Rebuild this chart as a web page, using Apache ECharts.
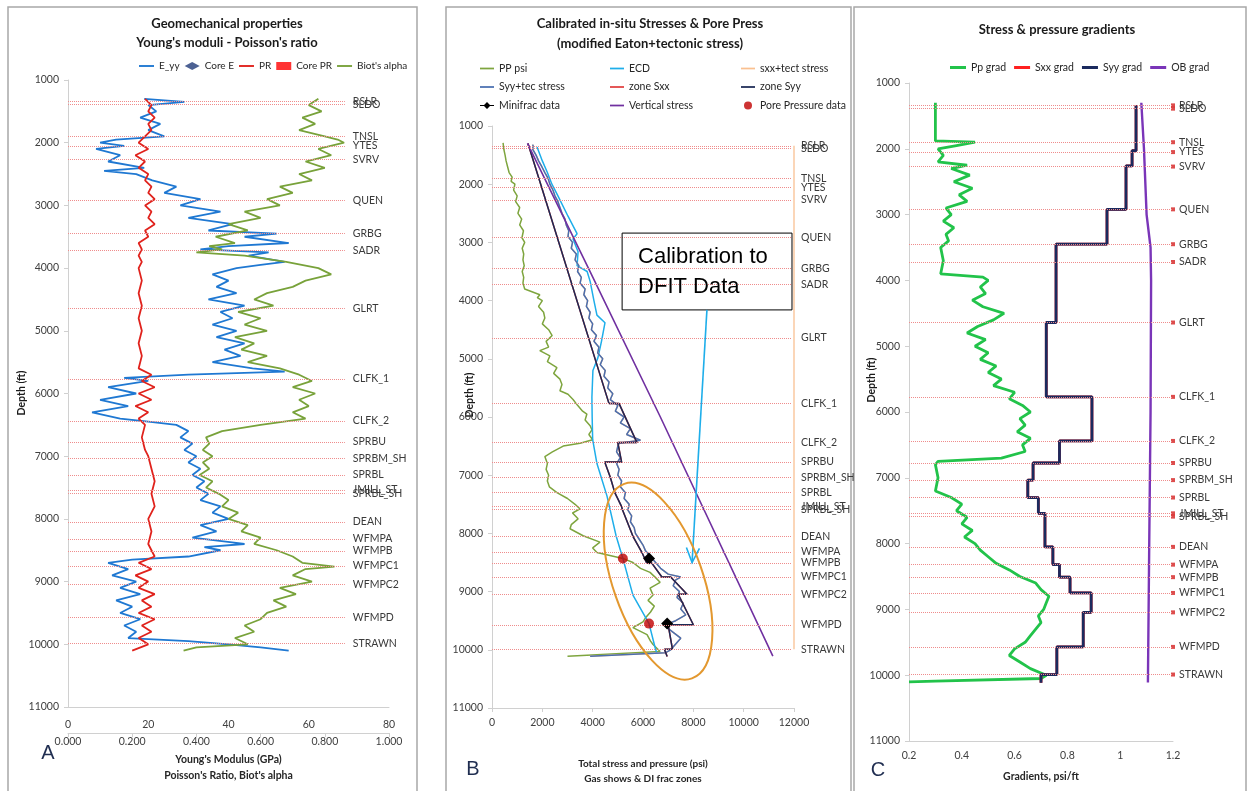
<!DOCTYPE html>
<html>
<head>
<meta charset="utf-8">
<script src="https://cdn.jsdelivr.net/npm/echarts/dist/echarts.min.js"></script>
<style>
  html, body { margin: 0; padding: 0; background: #fff; }
  #chart { width: 1249px; height: 791px; }
</style>
</head>
<body>
<div id="chart"></div>
<script>
const FONT = "Lato, 'Open Sans', sans-serif";
const depthMin = 1000, depthMax = 11000, depthStep = 1000;

// Formation tops (ft)
const formationNames = ['RSLR','SLDO','TNSL','YTES','SVRV','QUEN','GRBG','SADR','GLRT','CLFK_1','CLFK_2','SPRBU','SPRBM_SH','SPRBL','JMILL_ST','SPRBL_SH','DEAN','WFMPA','WFMPB','WFMPC1','WFMPC2','WFMPD','STRAWN'];
const formationDepths = [1340,1390,1900,2050,2270,2920,3450,3720,4640,5770,6440,6775,7035,7300,7540,7590,8050,8320,8510,8750,9045,9570,9990];

// ---- Panel A: Young's modulus (GPa), Poisson's ratio, Biot's alpha ----
const eyyDepth = [1300,1350,1400,1500,1600,1700,1800,1900,1950,2000,2050,2100,2200,2300,2400,2450,2500,2600,2700,2800,2900,3000,3100,3200,3300,3400,3450,3500,3600,3650,3700,3750,3800,3900,3950,4000,4100,4200,4300,4400,4500,4600,4700,4800,4900,5000,5100,5200,5300,5400,5500,5600,5650,5700,5750,5800,5900,6000,6100,6200,6300,6400,6450,6500,6600,6700,6800,6900,7000,7100,7200,7300,7400,7500,7600,7700,7800,7900,8000,8100,8200,8300,8400,8450,8500,8600,8650,8700,8800,8900,9000,9100,9200,9300,9400,9500,9600,9700,9800,9900,9950,10000,10050,10100];
const eyyGpa = [19,29,20,22,18,23,20,24,12,8,14,7,13,10,19,9,17,21,27,24,33,28,38,30,41,35,52,44,55,40,33,50,45,54,48,42,36,40,37,42,35,44,38,41,36,42,37,44,39,43,36,46,54,30,14,20,10,17,8,15,6,13,20,27,30,28,31,29,32,30,33,31,34,32,35,33,38,36,40,33,37,31,44,34,38,30,16,10,15,11,17,13,18,12,16,13,18,14,17,15,30,40,48,55];

const prDepth = [1300,1400,1500,1600,1700,1800,1900,2000,2100,2200,2300,2400,2500,2600,2700,2800,2900,3000,3100,3200,3300,3400,3500,3600,3700,3800,3900,4000,4200,4400,4600,4800,5000,5200,5400,5600,5700,5800,5900,6000,6100,6200,6300,6400,6500,6700,6900,7000,7200,7400,7600,7800,8000,8200,8400,8600,8700,8800,8900,9000,9100,9200,9300,9400,9500,9600,9700,9800,9900,10000,10100];
const prValue = [0.24,0.26,0.25,0.27,0.25,0.26,0.24,0.22,0.25,0.21,0.24,0.22,0.25,0.24,0.26,0.25,0.27,0.24,0.26,0.25,0.27,0.24,0.25,0.22,0.23,0.22,0.23,0.22,0.23,0.22,0.23,0.22,0.23,0.22,0.23,0.22,0.26,0.23,0.27,0.22,0.26,0.21,0.25,0.22,0.24,0.23,0.24,0.25,0.26,0.27,0.26,0.27,0.25,0.26,0.25,0.27,0.22,0.26,0.21,0.25,0.22,0.27,0.23,0.26,0.22,0.27,0.23,0.26,0.22,0.25,0.20];

const biotDepth = [1300,1400,1500,1600,1700,1800,1900,1950,2000,2100,2200,2300,2400,2500,2600,2700,2800,2900,3000,3100,3200,3300,3400,3500,3600,3650,3700,3750,3800,3900,4000,4100,4200,4300,4400,4500,4600,4700,4800,4900,5000,5100,5200,5300,5400,5500,5600,5700,5800,5900,6000,6100,6200,6300,6400,6500,6600,6700,6800,6900,7000,7100,7200,7300,7400,7500,7600,7700,7800,7900,8000,8100,8200,8300,8400,8500,8600,8700,8760,8800,8900,9000,9100,9200,9300,9400,9500,9600,9700,9800,9900,10000,10050,10100];
const biotValue = [0.78,0.75,0.79,0.73,0.77,0.72,0.80,0.84,0.86,0.78,0.82,0.74,0.80,0.72,0.76,0.66,0.70,0.62,0.66,0.55,0.60,0.50,0.56,0.46,0.52,0.44,0.48,0.40,0.55,0.68,0.78,0.82,0.74,0.70,0.62,0.58,0.64,0.53,0.60,0.55,0.62,0.52,0.58,0.54,0.62,0.56,0.66,0.72,0.76,0.70,0.77,0.72,0.75,0.70,0.74,0.60,0.48,0.43,0.44,0.42,0.45,0.42,0.44,0.41,0.45,0.43,0.47,0.50,0.48,0.53,0.50,0.56,0.54,0.60,0.58,0.65,0.70,0.73,0.83,0.74,0.70,0.76,0.66,0.71,0.64,0.68,0.62,0.60,0.55,0.58,0.52,0.56,0.40,0.36];

// ---- Panel B: stresses and pore pressure (psi) ----
const ppDepth = [1290,1400,1500,1600,1700,1800,1880,1950,2000,2100,2200,2300,2400,2500,2600,2700,2800,2920,3000,3100,3200,3300,3400,3500,3600,3700,3800,3900,3950,4000,4100,4200,4300,4400,4500,4600,4700,4800,4860,4950,5050,5150,5250,5350,5440,5550,5610,5700,5800,5900,5950,6050,6150,6220,6300,6390,6450,6500,6600,6680,6800,6900,7000,7100,7200,7300,7400,7500,7580,7650,7750,7850,7920,8040,8150,8250,8330,8430,8500,8600,8670,8760,8840,8940,9060,9150,9250,9350,9450,9520,9620,9740,9850,9910,10030,10110];
const ppPsi = [440,470,520,560,620,680,800,760,910,860,1000,940,1100,1030,1180,1100,1250,1190,1300,1200,1260,1230,1280,1200,1260,1230,1300,1900,1800,2000,1850,2050,2100,2000,2250,2390,2150,2250,1900,2300,2200,2580,2450,2700,2780,2700,3020,3220,3400,3600,3770,3700,3900,3970,3850,4000,3500,2830,2400,2100,2200,2150,2250,2200,2280,2580,3000,3300,3500,3200,3420,3150,3100,3620,4290,4000,4170,5200,5600,5900,6280,6500,6680,6280,6400,6200,6450,6300,6100,6000,5600,6160,6300,6400,6680,3000];

const ecdDepth = [1360,1600,1800,2000,2200,2550,2850,2940,3160,3400,3500,3670,4000,4250,4380,4700,4980,5200,5660,6000,6390,6800,7360,8040,8430,9060,9550,9960,10060];
const ecdPsi = [1790,2000,2200,2380,2620,3020,3380,3220,3420,3380,3780,3900,4050,4170,4490,4350,4210,4010,3970,3980,4000,4170,4570,4930,5200,5600,6240,6480,6550];

const syyTecDepth = [1320,1400,1500,1600,1700,1800,1900,2000,2100,2200,2300,2400,2500,2600,2700,2800,2900,3000,3100,3200,3300,3400,3500,3600,3700,3800,3900,4000,4100,4200,4300,4400,4500,4600,4700,4800,4900,5000,5100,5200,5300,5400,5500,5600,5700,5800,5900,6000,6100,6200,6300,6400,6450,6500,6600,6700,6800,6900,7000,7100,7200,7300,7400,7500,7600,7700,7800,7900,8000,8100,8200,8300,8400,8500,8600,8700,8750,8800,8900,9000,9100,9200,9300,9400,9500,9550,9600,9700,9800,9900,10000,10050,10110];
const syyTecPsi = [1630,1620,1750,1850,1980,2100,2230,2300,2420,2500,2620,2700,2780,2900,2950,3050,3020,3200,3150,3350,3300,3450,3400,3550,3500,3700,3650,3800,3750,3900,3850,4000,3950,4150,4050,4250,4200,4400,4300,4500,4450,4650,4600,4800,4700,5000,4900,5250,5100,5500,5350,5900,5050,5000,4950,5100,4950,5050,5000,5150,5100,5300,5250,5450,5400,5550,5500,5650,5700,5850,6000,6100,6300,6500,6700,7000,7500,7300,7200,7450,7350,7600,7500,7700,7300,7000,6900,7200,7500,7300,7100,6900,3900];

const zoneSyyDepth = [1300,5770,5770,6440,6440,6775,6775,7035,7300,7540,7590,8050,8320,8510,8510,8750,8750,9045,9045,9570,9570,9990,9990,10115];
const zoneSyyPsi = [1430,4650,5050,5760,5000,5150,4480,4700,4880,5150,5180,5600,5950,6150,6350,6750,7100,7750,7400,8000,7000,7170,6850,6960];

const vertDepth = [1300,3450,6000,10110];
const vertPsi = [1410,3840,6690,11160];

const minifracDepth = [8430,9550];
const minifracPsi = [6240,6960];
const poreDataDepth = [8430,9550];
const poreDataPsi = [5200,6240];

// ---- Panel C: gradients (psi/ft) ----
const ppGradDepth = [1300,1800,1880,1900,1950,2000,2100,2200,2250,2300,2400,2500,2600,2700,2800,2900,3000,3100,3200,3300,3400,3500,3700,3900,3950,4000,4100,4200,4300,4400,4500,4600,4700,4800,4900,5000,5100,5200,5300,5400,5500,5600,5700,5800,5900,6000,6100,6200,6300,6400,6500,6600,6700,6750,6800,7000,7200,7300,7400,7500,7600,7700,7800,7900,8000,8100,8200,8300,8400,8500,8600,8700,8800,8900,9000,9100,9200,9300,9400,9500,9600,9700,9800,9900,10000,10050,10090,10100];
const ppGradValue = [0.30,0.30,0.30,0.45,0.38,0.31,0.33,0.31,0.42,0.36,0.43,0.37,0.44,0.39,0.42,0.34,0.36,0.33,0.37,0.34,0.35,0.32,0.33,0.32,0.48,0.50,0.47,0.49,0.44,0.48,0.56,0.52,0.46,0.42,0.49,0.45,0.50,0.47,0.53,0.50,0.55,0.52,0.60,0.58,0.63,0.66,0.62,0.64,0.61,0.66,0.63,0.64,0.55,0.31,0.30,0.31,0.30,0.36,0.40,0.38,0.42,0.40,0.44,0.41,0.45,0.47,0.50,0.53,0.58,0.62,0.68,0.70,0.73,0.72,0.71,0.69,0.70,0.68,0.66,0.64,0.60,0.58,0.62,0.66,0.72,0.70,0.30,0.20];

const syyGradTop = [1340,2030,2260,2920,3450,4640,5770,6440,6775,7035,7300,7540,8050,8320,8510,8750,9045,9570,9990];
const syyGradValue = [1.06,1.045,1.022,0.95,0.757,0.72,0.893,0.77,0.67,0.65,0.69,0.715,0.745,0.77,0.81,0.89,0.86,0.76,0.70];
const syyGradBottom = 10115;

const obGradDepth = [1300,2000,3000,3500,4000,6000,8000,10110];
const obGradValue = [1.08,1.09,1.10,1.115,1.117,1.115,1.11,1.105];

// Annotation anchors in data units of the stress panel
const calloutBox = { psi: [5170, 11920], depth: [2840, 4160] };
const calloutArrow = { from: [8540, 4160], to: [7950, 8500] };
const calibrationZone = { psi: 6600, depth: 8820 };

// ---------- helpers ----------
const pairs = (vals, depths) => vals.map((v, i) => [v, depths[i]]);
function stepPath(tops, vals, bottom) {
  const out = [];
  tops.forEach((t, i) => {
    const next = i + 1 < tops.length ? tops[i + 1] : bottom;
    out.push([vals[i], t], [vals[i], next]);
  });
  return out;
}
function lineSeries(name, xi, yi, data, color, width, extra) {
  return Object.assign({
    name, type: 'line', xAxisIndex: xi, yAxisIndex: yi, data,
    symbol: 'none', showSymbol: false, animation: false, clip: true,
    lineStyle: { color, width }, itemStyle: { color },
    emphasis: { disabled: true }
  }, extra || {});
}
function formationLines(x0, x1, distance) {
  return {
    silent: true, animation: false,
    symbol: ['none', 'none'],
    lineStyle: { color: '#ef8c8c', width: 1, type: 'dotted' },
    label: { show: true, position: 'end', distance, formatter: '{b}', color: '#3a3a3a', fontSize: 10.5, fontFamily: FONT },
    emphasis: { disabled: true },
    data: formationNames.map((n, i) => [{ name: n, coord: [x0, formationDepths[i]] }, { coord: [x1, formationDepths[i]] }])
  };
}
const plain = v => String(v);
const axisGrey = { lineStyle: { color: '#d0d0d0', width: 1 } };
const tickText = { fontSize: 10.5, color: '#404040', fontFamily: FONT, formatter: plain };
function depthAxis(grid) {
  return {
    type: 'value', gridIndex: grid, inverse: true, min: depthMin, max: depthMax, interval: depthStep,
    axisLine: { show: true, ...axisGrey }, axisTick: { show: true, length: 4, ...axisGrey },
    axisLabel: { margin: 9, ...tickText },
    splitLine: { show: false }
  };
}
function valueAxis(grid, min, max, interval, extra) {
  return Object.assign({
    type: 'value', gridIndex: grid, position: 'bottom', min, max, interval,
    axisLine: { show: true, onZero: false, ...axisGrey }, axisTick: { show: true, length: 4, ...axisGrey },
    axisLabel: { margin: 9, ...tickText },
    splitLine: { show: false },
    nameTextStyle: { fontWeight: 'bold', fontSize: 10.5, color: '#262626', fontFamily: FONT, lineHeight: 16 }
  }, extra || {});
}

// Legend glyphs: a plain stroke for line series, stroke + diamond for the minifrac points
const LINE_ICON = 'path://M0,0H32V4H0Z';
const THICK_ICON = 'path://M0,0H32V6H0Z';
const DIAMOND_LINE_ICON = 'path://M0,3.4H4L7,0.5L10,3.4H14V4.6H10L7,7.5L4,4.6H0Z';
const lineItem = (name, icon) => ({ name, icon: icon || LINE_ICON });

const legendText = { fontSize: 10.5, color: '#262626', fontFamily: FONT };
const legendBase = { itemHeight: 8, selectedMode: false, textStyle: legendText, itemStyle: { borderWidth: 0 } };

const chart = echarts.init(document.getElementById('chart'), null, { renderer: 'canvas' });

const option = {
  backgroundColor: '#ffffff',
  animation: false,
  grid: [
    { left: 68, top: 80, width: 321, height: 627 },
    { left: 492, top: 126, width: 302, height: 588 },
    { left: 909, top: 83, width: 264, height: 658 }
  ],
  xAxis: [
    valueAxis(0, 0, 80, 20, { axisTick: { show: false }, axisLabel: { margin: 12, ...tickText } }),
    valueAxis(0, 0, 1, 0.2, {
      offset: 26,
      axisLabel: { margin: 3, ...tickText, formatter: v => v.toFixed(3) },
      name: "Young's Modulus (GPa)\nPoisson's Ratio, Biot's alpha", nameLocation: 'middle', nameGap: 14
    }),
    valueAxis(1, 0, 12000, 2000, {
      name: 'Total stress and pressure (psi)\nGas shows & DI frac zones', nameLocation: 'middle', nameGap: 48,
      nameTextStyle: { fontWeight: 'bold', fontSize: 10, color: '#262626', fontFamily: FONT, lineHeight: 15 }
    }),
    valueAxis(2, 0.2, 1.2, 0.2, { axisTick: { show: false }, name: 'Gradients, psi/ft', nameLocation: 'middle', nameGap: 28 })
  ],
  yAxis: [depthAxis(0), depthAxis(1), depthAxis(2)],
  legend: [
    { ...legendBase, textStyle: { ...legendText, fontSize: 10 }, data: [lineItem('E_yy'), 'Core E', lineItem('PR'), 'Core PR', lineItem("Biot's alpha")], left: 134, top: 56, itemWidth: 15, itemGap: 5 },
    { ...legendBase, data: [lineItem('PP psi'), lineItem('Syy+tec stress'), { name: 'Minifrac data', icon: DIAMOND_LINE_ICON }], orient: 'vertical', left: 475, top: 58, itemWidth: 14, itemGap: 7.5 },
    { ...legendBase, data: [lineItem('ECD'), lineItem('zone Sxx'), lineItem('Vertical stress')], orient: 'vertical', left: 605, top: 58, itemWidth: 14, itemGap: 7.5 },
    { ...legendBase, data: [lineItem('sxx+tect stress'), lineItem('zone Syy'), 'Pore Pressure data'], orient: 'vertical', left: 736, top: 58, itemWidth: 14, itemGap: 7.5 },
    { ...legendBase, data: [lineItem('Pp grad', THICK_ICON), lineItem('Sxx grad', THICK_ICON), lineItem('Syy grad', THICK_ICON), lineItem('OB grad', THICK_ICON)], left: 945, top: 57, itemWidth: 16, itemGap: 8 }
  ],
  series: [
    // Panel A
    lineSeries('E_yy', 0, 0, pairs(eyyGpa, eyyDepth), '#1f78d2', 1.8),
    { name: 'Core E', type: 'scatter', xAxisIndex: 0, yAxisIndex: 0, data: [], symbol: 'diamond', symbolSize: 9, itemStyle: { color: '#1f3a78' } },
    lineSeries('PR', 1, 0, pairs(prValue, prDepth), '#e0221c', 1.8),
    { name: 'Core PR', type: 'scatter', xAxisIndex: 1, yAxisIndex: 0, data: [], symbol: 'rect', symbolSize: 8, itemStyle: { color: '#ff0000' } },
    lineSeries("Biot's alpha", 1, 0, pairs(biotValue, biotDepth), '#78a23a', 1.8),
    { type: 'line', xAxisIndex: 0, yAxisIndex: 0, data: [], markLine: formationLines(0, 69, 8) },

    // Panel B
    lineSeries('PP psi', 2, 1, pairs(ppPsi, ppDepth), '#7ea53e', 1.5),
    lineSeries('ECD', 2, 1, pairs(ecdPsi, ecdDepth), '#1eaeea', 1.5),
    lineSeries('sxx+tect stress', 2, 1, pairs(syyTecPsi, syyTecDepth), '#fac090', 1.5),
    lineSeries('Syy+tec stress', 2, 1, pairs(syyTecPsi, syyTecDepth), '#4a6fb0', 1.5),
    lineSeries('zone Sxx', 2, 1, pairs(zoneSyyPsi, zoneSyyDepth), '#e04040', 1.5),
    lineSeries('zone Syy', 2, 1, pairs(zoneSyyPsi, zoneSyyDepth), '#1c2a55', 1.5),
    lineSeries('Minifrac data', 2, 1, pairs(minifracPsi, minifracDepth), '#000000', 1.5, { symbol: 'diamond', showSymbol: true, symbolSize: 12, lineStyle: { opacity: 0, color: '#000' } }),
    lineSeries('Vertical stress', 2, 1, pairs(vertPsi, vertDepth), '#7030a0', 1.6),
    { name: 'Pore Pressure data', type: 'scatter', xAxisIndex: 2, yAxisIndex: 1, data: pairs(poreDataPsi, poreDataDepth), symbol: 'circle', symbolSize: 10, itemStyle: { color: '#c00000' }, z: 5 },
    lineSeries('', 2, 1, [[12000, formationDepths[0]], [12000, formationDepths[formationDepths.length - 1]]], '#fac8a0', 1.5, { markLine: formationLines(0, 11920, 9) }),

    // Panel C
    lineSeries('Pp grad', 3, 2, pairs(ppGradValue, ppGradDepth), '#22c34a', 2.8),
    lineSeries('Sxx grad', 3, 2, stepPath(syyGradTop, syyGradValue, syyGradBottom), '#ff2020', 2.8),
    lineSeries('Syy grad', 3, 2, stepPath(syyGradTop, syyGradValue, syyGradBottom), '#1b2a5e', 2.8),
    lineSeries('OB grad', 3, 2, pairs(obGradValue, obGradDepth), '#7a35b8', 2.4),
    { type: 'scatter', xAxisIndex: 3, yAxisIndex: 2, data: formationDepths.map(d => [1.2, d]), symbol: 'rect', symbolSize: 4, itemStyle: { color: '#d42020' }, silent: true,
      markLine: formationLines(0.2, 1.2, 6) }
  ]
};

chart.setOption(option);

// Frames, panel titles, axis titles and the calibration annotation
const txt = (text, x, y, style, extra) => Object.assign({
  type: 'text', x, y, silent: true,
  style: Object.assign({ text, fontFamily: FONT, fill: '#1a1a1a', textAlign: 'center', textVerticalAlign: 'middle' }, style)
}, extra || {});
const frame = (x, w) => ({ type: 'rect', silent: true, shape: { x, y: 7, width: w, height: 800 }, style: { fill: 'none', stroke: '#a8a8a8', lineWidth: 1.5 } });

const toPx = p => chart.convertToPixel({ xAxisIndex: 2, yAxisIndex: 1 }, p);
const boxA = toPx([calloutBox.psi[0], calloutBox.depth[0]]);
const boxB = toPx([calloutBox.psi[1], calloutBox.depth[1]]);
const arrFrom = toPx(calloutArrow.from);
const arrTo = toPx(calloutArrow.to);
const zoneC = toPx([calibrationZone.psi, calibrationZone.depth]);
const ang = Math.atan2(arrTo[1] - arrFrom[1], arrTo[0] - arrFrom[0]);
const head = 16, spread = 0.42;

chart.setOption({
  graphic: [
    frame(8, 409), frame(446, 405), frame(854, 392),
    txt('Geomechanical properties', 227, 24, { fontSize: 13, fontWeight: 'bold' }),
    txt("Young's moduli - Poisson's ratio", 227, 43, { fontSize: 13, fontWeight: 'bold' }),
    txt('Calibrated in-situ Stresses & Pore Press', 650, 24, { fontSize: 13, fontWeight: 'bold' }),
    txt('(modified Eaton+tectonic stress)', 650, 44, { fontSize: 13, fontWeight: 'bold' }),
    txt('Stress & pressure gradients', 1057, 30, { fontSize: 13, fontWeight: 'bold' }),
    txt('Depth (ft)', 22, 393, { fontSize: 10.5, fontWeight: 'bold' }, { rotation: Math.PI / 2 }),
    txt('Depth (ft)', 470, 395, { fontSize: 10.5, fontWeight: 'bold' }, { rotation: Math.PI / 2 }),
    txt('Depth (ft)', 872, 380, { fontSize: 10.5, fontWeight: 'bold' }, { rotation: Math.PI / 2 }),
    txt('A', 48, 753, { fontSize: 20, fill: '#1f2d50', fontFamily: "'Liberation Sans', sans-serif" }),
    txt('B', 473, 769, { fontSize: 20, fill: '#1f2d50', fontFamily: "'Liberation Sans', sans-serif" }),
    txt('C', 878, 770, { fontSize: 20, fill: '#1f2d50', fontFamily: "'Liberation Sans', sans-serif" }),
    { type: 'rect', silent: true, z: 10, shape: { x: boxA[0], y: boxA[1], width: boxB[0] - boxA[0], height: boxB[1] - boxA[1] }, style: { fill: 'none', stroke: '#000', lineWidth: 1 } },
    txt('Calibration to\nDFIT Data', boxA[0] + 16, boxA[1] + 39, { fontSize: 22, lineHeight: 30, textAlign: 'left', fill: '#000', fontFamily: "'Liberation Sans', Arial, sans-serif" }, { z: 10 }),
    { type: 'polyline', silent: true, z: 10, shape: { points: [arrFrom, arrTo] }, style: { stroke: '#1eaeea', lineWidth: 1.6, fill: 'none' } },
    { type: 'polyline', silent: true, z: 10, shape: { points: [
      [arrTo[0] - head * Math.cos(ang - spread), arrTo[1] - head * Math.sin(ang - spread)], arrTo,
      [arrTo[0] - head * Math.cos(ang + spread), arrTo[1] - head * Math.sin(ang + spread)]
    ] }, style: { stroke: '#1eaeea', lineWidth: 1.6, fill: 'none' } },
    { type: 'ellipse', silent: true, z: 10, x: zoneC[0], y: zoneC[1], rotation: 0.335, shape: { cx: 0, cy: 0, rx: 45, ry: 103 }, style: { fill: 'none', stroke: '#e3982f', lineWidth: 2 } }
  ]
});
</script>
</body>
</html>
